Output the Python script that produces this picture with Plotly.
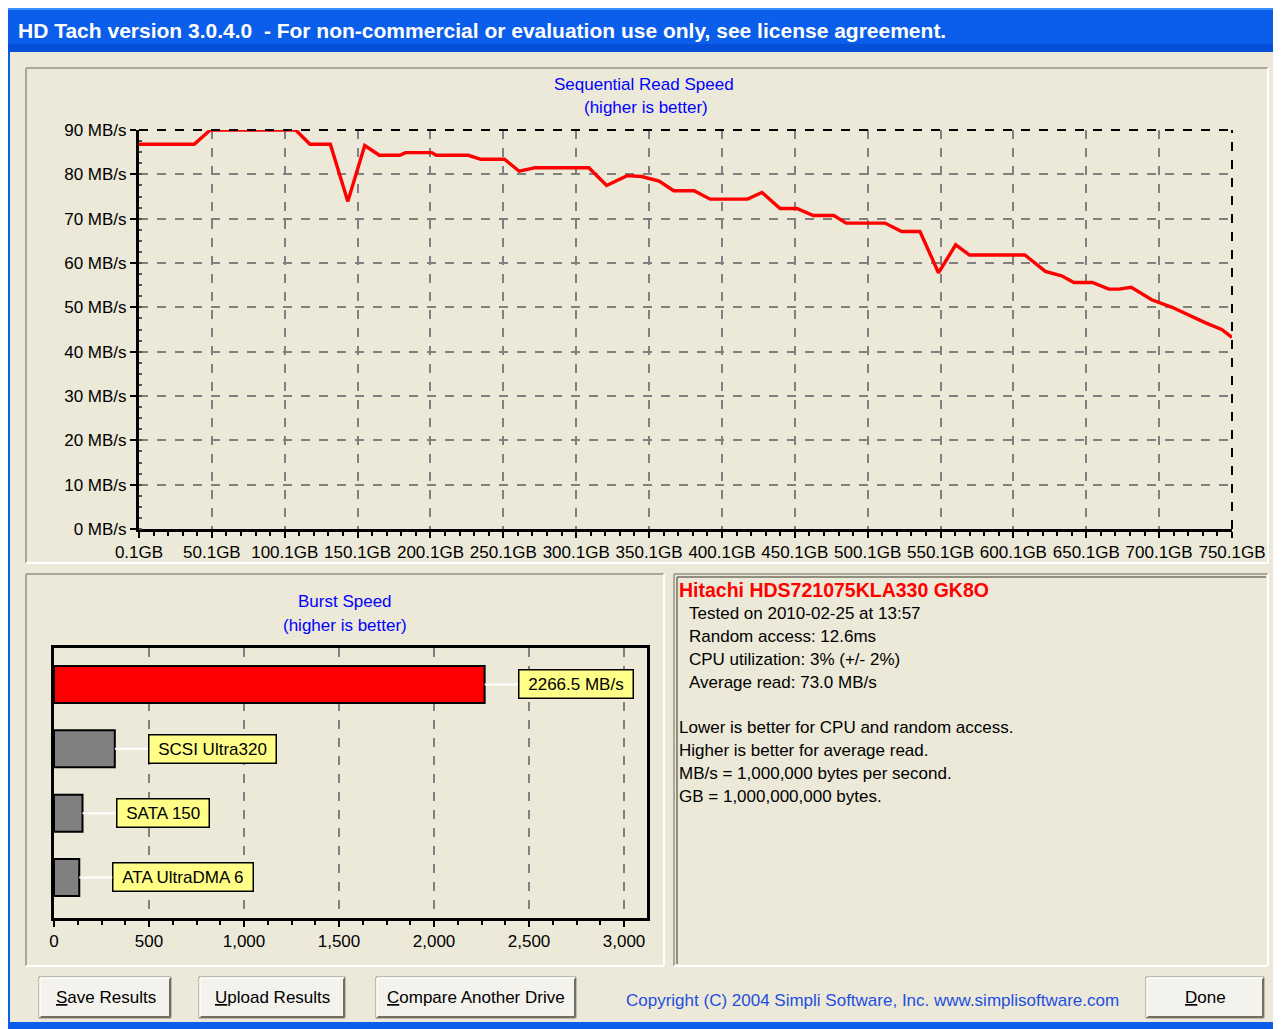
import plotly.graph_objects as go

# page body has an 8px margin: the figure is shifted so that screen pixels line up
OFF = 8
W, H = 1281 - OFF, 1029 - OFF


def PX(x):
    return (x - OFF) / W


def PY(y):
    return 1 - (y - OFF) / H


# ---------------- data ----------------
position_gb = [0.1, 38, 49, 107.6, 117.4, 131.4, 143.4, 155, 165, 179, 183, 201, 204, 226,
               234.7, 250.9, 261, 272, 308.8, 321, 335, 345, 357, 367, 381, 392, 417.7,
               427.6, 440, 451.5, 462.8, 476.9, 485.3, 512, 523.4, 536, 548.7, 560.5, 570,
               608, 622, 633.2, 641.6, 654.3, 665.6, 672.6, 681, 695, 709, 720, 732, 743, 750.1]
read_mbs = [86.8, 86.8, 90, 90, 86.8, 86.8, 73.9, 86.5, 84.3, 84.3, 84.9, 84.9, 84.3, 84.3,
            83.4, 83.4, 80.7, 81.5, 81.5, 77.5, 79.7, 79.5, 78.5, 76.3, 76.3, 74.4, 74.4,
            75.9, 72.3, 72.3, 70.7, 70.7, 69.0, 69.0, 67.1, 67.1, 57.8, 64.1, 61.8,
            61.8, 58.1, 57.1, 55.6, 55.6, 54.1, 54.1, 54.5, 51.7, 50.0, 48.3, 46.5, 45.0, 43.2]

x_tick_vals = [0.1, 50.1, 100.1, 150.1, 200.1, 250.1, 300.1, 350.1, 400.1, 450.1,
               500.1, 550.1, 600.1, 650.1, 700.1, 750.1]
x_tick_labels = ["0.1GB", "50.1GB", "100.1GB", "150.1GB", "200.1GB", "250.1GB", "300.1GB",
                 "350.1GB", "400.1GB", "450.1GB", "500.1GB", "550.1GB", "600.1GB",
                 "650.1GB", "700.1GB", "750.1GB"]
y_tick_vals = [0, 10, 20, 30, 40, 50, 60, 70, 80, 90]
y_tick_labels = ["0 MB/s", "10 MB/s", "20 MB/s", "30 MB/s", "40 MB/s", "50 MB/s",
                 "60 MB/s", "70 MB/s", "80 MB/s", "90 MB/s"]

burst_categories = ["ATA UltraDMA 6", "SATA 150", "SCSI Ultra320", "This drive"]
burst_values = [133, 150, 320, 2266.5]
burst_labels = ["ATA UltraDMA 6", "SATA 150", "SCSI Ultra320", "2266.5 MB/s"]
burst_colors = ["#808080", "#808080", "#808080", "#FF0000"]
burst_ticks = [0, 500, 1000, 1500, 2000, 2500, 3000]
burst_tick_labels = ["0", "500", "1,000", "1,500", "2,000", "2,500", "3,000"]

drive_name = "Hitachi HDS721075KLA330 GK8O"
info_lines = ["Tested on 2010-02-25 at 13:57", "Random access: 12.6ms",
              "CPU utilization: 3% (+/- 2%)", "Average read: 73.0 MB/s"]
note_lines = ["Lower is better for CPU and random access.", "Higher is better for average read.",
              "MB/s = 1,000,000 bytes per second.", "GB = 1,000,000,000 bytes."]
window_title = "HD Tach version 3.0.4.0  - For non-commercial or evaluation use only, see license agreement."
copyright_text = "Copyright (C) 2004 Simpli Software, Inc. www.simplisoftware.com"

FONT = "Arial, 'Liberation Sans', sans-serif"
BG = "#ECE9D8"
BLUE_TXT = "#0000FF"

fig = go.Figure()

fig.add_trace(go.Scatter(x=position_gb, y=read_mbs, mode="lines",
                         line=dict(color="#FF0000", width=3.4), xaxis="x", yaxis="y",
                         hoverinfo="skip"))

fig.add_trace(go.Bar(x=burst_values, y=burst_categories, orientation="h",
                     marker=dict(color=burst_colors, line=dict(color="black", width=2)),
                     width=0.575, xaxis="x2", yaxis="y2", hoverinfo="skip"))

shapes = []
annotations = []


def rect(x0, y0, x1, y1, fill, line=None, lw=0, layer="below"):
    shapes.append(dict(type="rect", xref="paper", yref="paper", x0=PX(x0), x1=PX(x1),
                       y0=PY(y1), y1=PY(y0), fillcolor=fill,
                       line=dict(color=line or fill, width=lw), layer=layer))


def hline(x0, x1, y, color, w=2, layer="below"):
    shapes.append(dict(type="line", xref="paper", yref="paper", x0=PX(x0), x1=PX(x1),
                       y0=PY(y), y1=PY(y), line=dict(color=color, width=w), layer=layer))


def vline(x, y0, y1, color, w=2, layer="below"):
    shapes.append(dict(type="line", xref="paper", yref="paper", x0=PX(x), x1=PX(x),
                       y0=PY(y0), y1=PY(y1), line=dict(color=color, width=w), layer=layer))


def sunken(x0, y0, x1, y1):
    hline(x0, x1, y0, "#ACA899", 2)
    vline(x0, y0, y1, "#ACA899", 2)
    hline(x0, x1, y1, "#FFFFFF", 2)
    vline(x1, y0, y1, "#FFFFFF", 2)


def text(x, y, s, size=17, color="black", xanchor="left", bold=False):
    if xanchor == "left":
        x -= 2
    annotations.append(dict(xref="paper", yref="paper", x=PX(x), y=PY(y), text=(f"<b>{s}</b>" if bold else s),
                            showarrow=False, xanchor=xanchor, yanchor="middle",
                            font=dict(family=FONT, size=size, color=color)))


# window frame
rect(6, 3, 1281, 1029, "#0A5EEA")
rect(6, 3, 1281, 10, "#3D8EFF")
rect(6, 44, 1281, 52, "#0650D8")
rect(10, 52, 1277, 1022, BG)

# panels
sunken(26, 68, 1268, 563)
sunken(26, 574, 664, 966)
sunken(674, 574, 1268, 966)
hline(677, 1266, 577, "#716F64", 1.5)
vline(677, 577, 964, "#716F64", 1.5)

# buttons
for (bx0, bx1) in [(39, 171), (199, 345), (376, 576), (1146, 1264)]:
    rect(bx0, 977, bx1, 1018, "#F3F2EC", "#8E8C80", 1)
    hline(bx0 + 1, bx1 - 1, 1017, "#716F64", 2)
    vline(bx1 - 1, 978, 1017, "#716F64", 2)
    hline(bx0 + 1, bx1 - 1, 978, "#FFFFFF", 1.5)
    vline(bx0 + 1, 978, 1017, "#FFFFFF", 1.5)

text(106, 997, "<u>S</u>ave Results", 17, xanchor="center")
text(272, 997, "<u>U</u>pload Results", 17, xanchor="center")
text(476, 997, "<u>C</u>ompare Another Drive", 17, xanchor="center")
text(1205, 997, "<u>D</u>one", 17, xanchor="center")
text(626, 1000, copyright_text, 17, color="#1F4FE0")

# title bar
text(18, 30, window_title, 21, color="white", bold=True)

# chart titles
text(644, 84, "Sequential Read Speed", 17, color=BLUE_TXT, xanchor="center")
text(646, 108, "(higher is better)", 17, color=BLUE_TXT, xanchor="center")
text(345, 601, "Burst Speed", 17, color=BLUE_TXT, xanchor="center")
text(345, 625, "(higher is better)", 17, color=BLUE_TXT, xanchor="center")

# info panel
text(679, 590, drive_name, 19.5, color="#FF0000", bold=True)
for i, s in enumerate(info_lines):
    text(689, 613 + 23 * i, s, 17)
for i, s in enumerate(note_lines):
    text(679, 727 + 23 * i, s, 17)

# burst labels
for cat, val, lab in zip(burst_categories, burst_values, burst_labels):
    annotations.append(dict(xref="x2", yref="y2", x=val, y=cat, text="\u00a0" + lab + "\u00a0",
                            showarrow=True, arrowhead=0, arrowwidth=2, arrowcolor="white",
                            ax=33, ay=0, xanchor="left", yanchor="middle",
                            bgcolor="#FFFF88", bordercolor="black", borderwidth=1.5, borderpad=4,
                            font=dict(family=FONT, size=17, color="black")))

# dashed top / right frame of the line chart
shapes.append(dict(type="line", xref="x domain", yref="y domain", x0=0, x1=1, y0=1, y1=1,
                   line=dict(color="black", width=2, dash="dash"), layer="above"))
shapes.append(dict(type="line", xref="x domain", yref="y domain", x0=1, x1=1, y0=0, y1=1,
                   line=dict(color="black", width=2, dash="dash"), layer="above"))

fig.update_layout(
    width=W, height=H, autosize=False,
    margin=dict(l=0, r=0, t=0, b=0, pad=0, autoexpand=False),
    paper_bgcolor="#FFFFFF", plot_bgcolor="rgba(0,0,0,0)", showlegend=False,
    font=dict(family=FONT, size=17, color="black"),
    shapes=shapes, annotations=annotations,
    xaxis=dict(domain=[PX(139), PX(1232)], range=[0.1, 750.1], anchor="y", automargin=False,
               tickmode="array", tickvals=x_tick_vals, ticktext=x_tick_labels,
               showgrid=True, gridcolor="#808080", griddash="dash", gridwidth=1.5,
               showline=True, linecolor="black", linewidth=3, zeroline=False,
               ticks="outside", ticklen=6, tickcolor="black", tickwidth=1.5,
               tickfont=dict(size=17),
               minor=dict(tick0=0.1, dtick=10, ticks="outside", ticklen=4, tickcolor="black",
                          showgrid=False)),
    yaxis=dict(domain=[PY(529), PY(130)], range=[0, 90], anchor="x", automargin=False,
               tickmode="array", tickvals=y_tick_vals, ticktext=y_tick_labels,
               showgrid=True, gridcolor="#808080", griddash="dash", gridwidth=1.5,
               showline=True, linecolor="black", linewidth=3, zeroline=False,
               ticks="outside", ticklen=6, tickcolor="black", tickwidth=1.5,
               tickfont=dict(size=17),
               minor=dict(dtick=2.5, ticks="inside", ticklen=3, tickcolor="#555555",
                          showgrid=False)),
    xaxis2=dict(domain=[PX(54), PX(647)], range=[0, 3121], anchor="y2", automargin=False,
                tickmode="array", tickvals=burst_ticks, ticktext=burst_tick_labels,
                showgrid=True, gridcolor="#808080", griddash="dash", gridwidth=1.5,
                showline=True, mirror=True, linecolor="black", linewidth=3, zeroline=False,
                ticks="outside", ticklen=6, tickcolor="black", tickwidth=1.5,
                tickfont=dict(size=17),
                minor=dict(dtick=125, ticks="outside", ticklen=4, tickcolor="black",
                           showgrid=False)),
    yaxis2=dict(domain=[PY(918), PY(648)], range=[-0.63, 3.567], anchor="x2", automargin=False,
                type="category", categoryorder="array", categoryarray=burst_categories,
                showticklabels=False, showgrid=False, ticks="",
                showline=True, mirror=True, linecolor="black", linewidth=3, zeroline=False),
)

fig.write_html("out.html")
